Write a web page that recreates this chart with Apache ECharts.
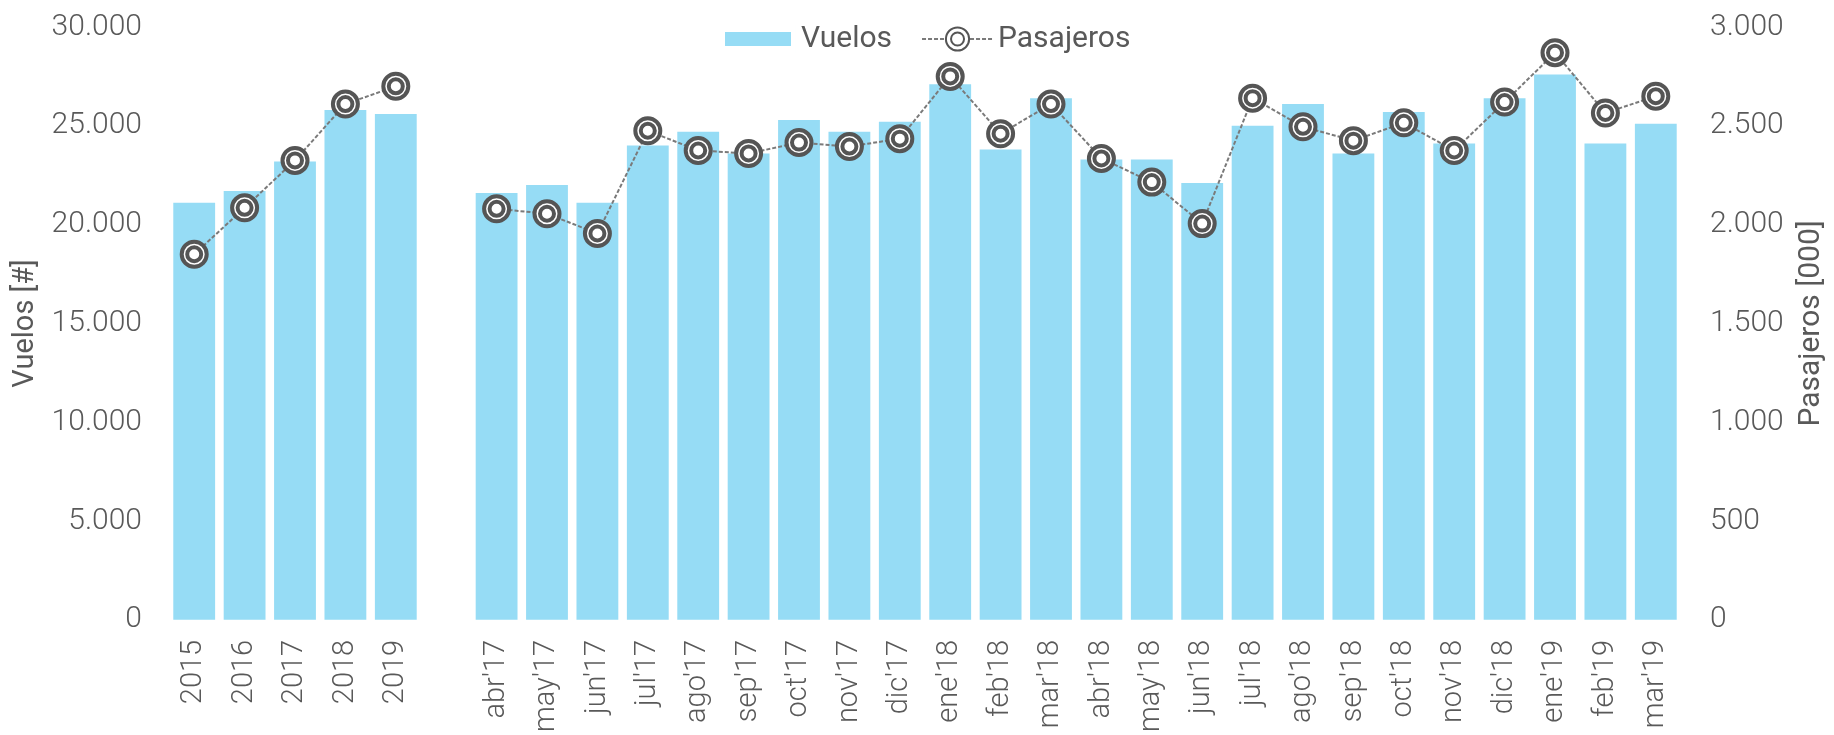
<!DOCTYPE html>
<html>
<head>
<meta charset="utf-8">
<script src="https://cdn.jsdelivr.net/npm/echarts@6/dist/echarts.min.js"></script>
<style>
html,body{margin:0;padding:0;background:#fff;}
#chart{width:1834px;height:735px;}
</style>
</head>
<body>
<div id="chart"></div>
<script>
const categories = ['2015','2016','2017','2018','2019','',
  "abr'17","may'17","jun'17","jul'17","ago'17","sep'17","oct'17","nov'17","dic'17",
  "ene'18","feb'18","mar'18","abr'18","may'18","jun'18","jul'18","ago'18","sep'18","oct'18","nov'18","dic'18",
  "ene'19","feb'19","mar'19"];
const vuelos = [21100, 21700, 23200, 25800, 25600, null,
  21600, 22000, 21100, 24000, 24700, 23600, 25300, 24700, 25200,
  27100, 23800, 26400, 23300, 23300, 22100, 25000, 26100, 23600, 25700, 24100, 26400,
  27600, 24100, 25100];
const pasajeros = [1850, 2085, 2325, 2610, 2700, null,
  2080, 2055, 1955, 2475, 2375, 2360, 2415, 2395, 2435,
  2750, 2460, 2610, 2335, 2215, 2005, 2640, 2495, 2425, 2515, 2375, 2620,
  2870, 2565, 2650];
const leftTicks = {min: 0, max: 30000, interval: 5000};
const rightTicks = {min: 0, max: 3000, interval: 500};

const TXT = '#595959';
const FONT = 'Roboto';
function fmt(v){ return String(v).replace(/\B(?=(\d{3})+(?!\d))/g, '.'); }
const ringPath = 'path://M0,-100A100,100,0,1,1,0,100A100,100,0,1,1,0,-100ZM0,-56A56,56,0,1,1,0,56A56,56,0,1,1,0,-56Z';
const barLegendIcon = 'path://M0,7.5H66V21.5H0ZM70.99,0H71V29H70.99Z';

const chart = echarts.init(document.getElementById('chart'));
chart.setOption({
  backgroundColor: '#fff',
  animation: false,
  textStyle: {fontFamily: FONT},
  grid: {left: 169, right: 144, top: 27, bottom: 114, containLabel: false},
  legend: {
    left: 720, top: 19,
    itemWidth: 71, itemHeight: 29, itemGap: 29,
    textStyle: {fontSize: 30, color: TXT, fontFamily: FONT},
    data: [{name: 'Vuelos', icon: barLegendIcon}, {name: 'Pasajeros'}]
  },
  xAxis: {
    type: 'category', data: categories,
    axisLine: {show: false}, axisTick: {show: false},
    axisLabel: {rotate: 90, interval: 0, margin: 20, fontSize: 29, fontWeight: 300, color: TXT, fontFamily: FONT}
  },
  yAxis: [{
    type: 'value', min: leftTicks.min, max: leftTicks.max, interval: leftTicks.interval,
    name: 'Vuelos [#]', nameLocation: 'middle', nameRotate: 90, nameGap: 119,
    nameTextStyle: {fontSize: 29, color: TXT, fontFamily: FONT},
    splitLine: {show: false}, axisLine: {show: false}, axisTick: {show: false},
    axisLabel: {margin: 27, fontSize: 30, fontWeight: 300, color: TXT, fontFamily: FONT, formatter: fmt}
  }, {
    type: 'value', min: rightTicks.min, max: rightTicks.max, interval: rightTicks.interval,
    name: 'Pasajeros [000]', nameLocation: 'middle', nameRotate: 90, nameGap: 115,
    nameTextStyle: {fontSize: 30, color: TXT, fontFamily: FONT},
    splitLine: {show: false}, axisLine: {show: false}, axisTick: {show: false},
    axisLabel: {margin: 29, fontSize: 30, fontWeight: 300, color: TXT, fontFamily: FONT, formatter: fmt}
  }],
  series: [{
    name: 'Vuelos', type: 'bar', data: vuelos, yAxisIndex: 0,
    barCategoryGap: '17%',
    itemStyle: {color: '#96DCF5'}
  }, {
    name: 'Pasajeros', type: 'line', data: pasajeros, yAxisIndex: 1,
    connectNulls: false,
    symbol: ringPath, symbolSize: 25, showAllSymbol: true,
    lineStyle: {color: '#7a7a7a', width: 2, type: [4, 2]},
    itemStyle: {color: '#fff', borderColor: '#555555', borderWidth: 4}
  }]
});
</script>
</body>
</html>
